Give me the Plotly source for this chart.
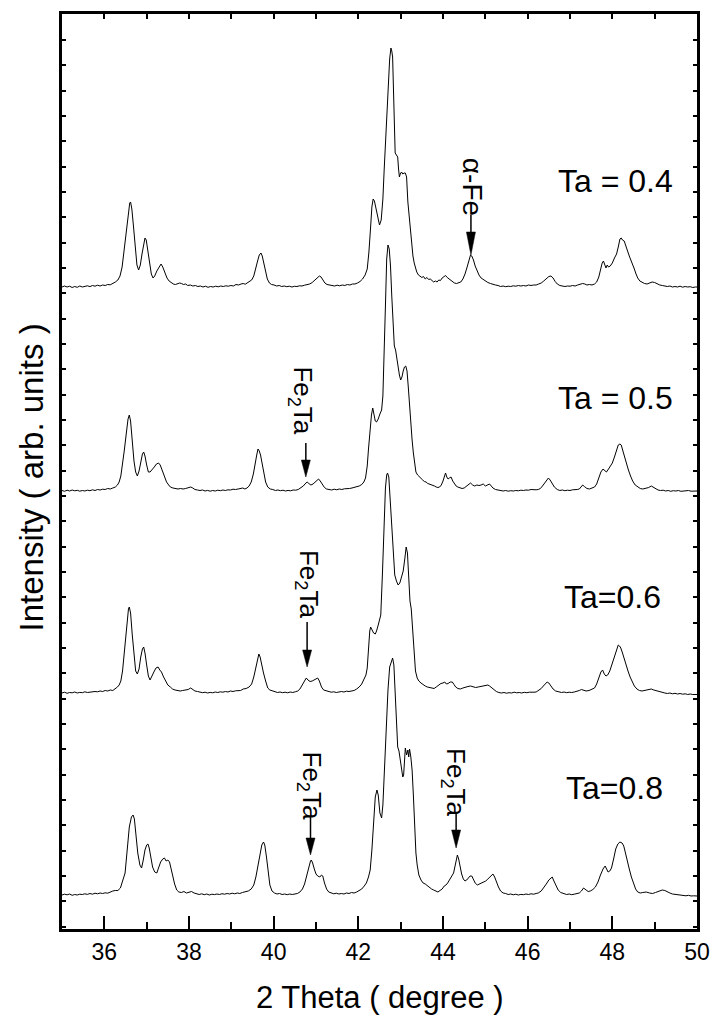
import plotly.graph_objects as go

# ---------------- data (2 theta in degree, intensity in arb. units above each pattern's baseline) ----
ta04_x = [
    35.00, 35.06, 35.12, 35.18, 35.24, 35.30, 35.36, 35.42, 35.48, 35.54,
    35.60, 35.66, 35.72, 35.78, 35.84, 35.90, 35.96, 36.02, 36.08, 36.14,
    36.20, 36.26, 36.32, 36.37, 36.42, 36.47, 36.52, 36.56, 36.60, 36.62,
    36.65, 36.69, 36.73, 36.77, 36.81, 36.85, 36.89, 36.93, 36.96, 36.99,
    37.03, 37.07, 37.11, 37.15, 37.19, 37.24, 37.29, 37.34, 37.38, 37.43,
    37.48, 37.53, 37.58, 37.63, 37.68, 37.73, 37.78, 37.82, 37.87, 37.92,
    37.97, 38.03, 38.09, 38.15, 38.21, 38.27, 38.33, 38.39, 38.45, 38.51,
    38.57, 38.63, 38.69, 38.75, 38.81, 38.87, 38.93, 38.99, 39.05, 39.11,
    39.17, 39.23, 39.28, 39.33, 39.38, 39.43, 39.48, 39.53, 39.58, 39.62,
    39.66, 39.70, 39.73, 39.77, 39.81, 39.85, 39.90, 39.95, 40.01, 40.07,
    40.13, 40.19, 40.25, 40.31, 40.37, 40.43, 40.49, 40.55, 40.61, 40.67,
    40.73, 40.79, 40.85, 40.91, 40.97, 41.03, 41.08, 41.12, 41.16, 41.21,
    41.26, 41.32, 41.38, 41.44, 41.50, 41.56, 41.62, 41.68, 41.74, 41.80,
    41.86, 41.92, 41.98, 42.04, 42.10, 42.16, 42.21, 42.25, 42.29, 42.32,
    42.35, 42.38, 42.42, 42.46, 42.50, 42.54, 42.58, 42.61, 42.64, 42.67,
    42.70, 42.72, 42.74, 42.77, 42.79, 42.81, 42.83, 42.85, 42.87, 42.90,
    42.93, 42.95, 42.97, 42.99, 43.02, 43.05, 43.08, 43.11, 43.14, 43.17,
    43.20, 43.23, 43.26, 43.29, 43.32, 43.35, 43.38, 43.42, 43.46, 43.50,
    43.54, 43.58, 43.62, 43.66, 43.70, 43.74, 43.78, 43.82, 43.86, 43.90,
    43.94, 43.98, 44.02, 44.06, 44.10, 44.14, 44.18, 44.22, 44.27, 44.32,
    44.37, 44.42, 44.47, 44.52, 44.57, 44.61, 44.65, 44.68, 44.72, 44.76,
    44.80, 44.85, 44.90, 44.95, 45.00, 45.06, 45.12, 45.18, 45.24, 45.30,
    45.36, 45.42, 45.48, 45.54, 45.60, 45.66, 45.72, 45.78, 45.84, 45.90,
    45.96, 46.02, 46.08, 46.14, 46.20, 46.26, 46.32, 46.38, 46.44, 46.50,
    46.55, 46.60, 46.65, 46.70, 46.76, 46.82, 46.88, 46.94, 47.00, 47.06,
    47.12, 47.18, 47.24, 47.30, 47.35, 47.40, 47.46, 47.52, 47.58, 47.63,
    47.68, 47.72, 47.76, 47.79, 47.82, 47.85, 47.88, 47.91, 47.95, 48.00,
    48.05, 48.10, 48.14, 48.18, 48.21, 48.24, 48.28, 48.32, 48.36, 48.40,
    48.44, 48.48, 48.52, 48.56, 48.60, 48.65, 48.70, 48.76, 48.82, 48.88,
    48.94, 49.00, 49.06, 49.12, 49.18, 49.24, 49.30, 49.36, 49.42, 49.48,
    49.54, 49.60, 49.66, 49.72, 49.78, 49.84, 49.90, 49.96, 50.00]
ta04_y = [
    0, 1, 0, 0.8, -0.5, 0.5, -0.3, 1, 0, 0.6,
    1.2, 0.4, 1.5, 0.8, 1.8, 1, 2, 1.5, 2.5, 2.2,
    3.5, 5, 7, 11, 20, 38, 58, 76, 84, 85,
    78, 60, 38, 22, 17, 22, 33, 44, 49, 47,
    36, 22, 13, 9, 11, 16, 20, 23, 20, 14,
    9, 6, 4, 3, 2.5, 3, 4, 3.5, 2.5, 3,
    1.5, 2, 1, 1.5, 0.5, 1, 0, 0.8, -0.3, 0.5,
    0, 0.8, 0.2, 1, 0.5, 1.2, 0.8, 1.5, 1, 2.5,
    2, 3, 3.5, 2.8, 4, 5, 7, 11, 18, 26,
    32, 34, 31, 24, 15, 8, 4, 2.5, 2, 1,
    1.5, 0.5, 1, 0.3, 0.8, 0, 0.7, 0.5, 1.2, 1,
    1.8, 2.5, 3, 4.5, 6.5, 9, 11, 10, 7, 4,
    2.5, 2, 1.5, 1, 1.8, 1.2, 2, 1.5, 2.5, 2,
    3, 3, 4, 5.5, 8, 12, 18, 35, 60, 80,
    88, 86, 78, 68, 62, 67, 88, 117, 145, 167,
    200, 214, 228, 239, 236, 230, 200, 167, 134, 132,
    130, 118, 110, 113, 115, 113, 114, 114, 110, 85,
    72, 55, 40, 31, 24, 19, 15, 12, 11, 9.5,
    10.5, 8, 9.5, 7.5, 8, 6.5, 5, 6, 5, 7,
    6.5, 9, 10, 11.5, 9.5, 8, 6.5, 5, 4, 3.5,
    4, 5, 8, 13, 20, 27, 32, 31, 27, 21,
    16, 12, 9, 7.5, 6, 4.5, 3.5, 2.5, 2, 1.5,
    0.5, 1, 0.3, 0.8, 0.5, 1.2, 0.8, 1.5, 1, 1.5,
    1, 2, 1.5, 2, 2, 3, 4, 6, 8.5, 10.5,
    11, 9, 5.5, 3, 1.5, 1, 0.5, 1, 0.8, 1.5,
    1, 2, 2.5, 3.5, 3, 2, 2.5, 2, 3, 5,
    10, 17, 24, 26, 21, 19, 22, 20, 21, 24,
    29, 33, 40, 48, 49, 47, 46, 40, 36, 31,
    27, 22, 18, 13, 9, 6, 4.5, 3.5, 3, 4,
    5, 4.5, 3, 2, 1.5, 1, 0.5, 1, 0, 0.5,
    0, 0.8, -0.2, 0.5, 0, 0.3, -0.5, 0, 0]

ta05_x = [
    35.00, 35.06, 35.12, 35.18, 35.24, 35.30, 35.36, 35.42, 35.48, 35.54,
    35.60, 35.66, 35.72, 35.78, 35.84, 35.90, 35.96, 36.02, 36.08, 36.14,
    36.20, 36.26, 36.31, 36.35, 36.39, 36.43, 36.47, 36.52, 36.56, 36.59,
    36.62, 36.66, 36.70, 36.74, 36.78, 36.82, 36.86, 36.90, 36.93, 36.96,
    37.00, 37.04, 37.08, 37.13, 37.18, 37.23, 37.28, 37.32, 37.37, 37.42,
    37.47, 37.52, 37.56, 37.62, 37.68, 37.74, 37.80, 37.86, 37.92, 37.98,
    38.04, 38.09, 38.14, 38.20, 38.26, 38.32, 38.38, 38.44, 38.50, 38.56,
    38.62, 38.68, 38.74, 38.80, 38.86, 38.92, 38.98, 39.04, 39.10, 39.16,
    39.22, 39.27, 39.32, 39.37, 39.42, 39.47, 39.52, 39.56, 39.60, 39.63,
    39.66, 39.69, 39.73, 39.77, 39.81, 39.86, 39.92, 39.98, 40.04, 40.10,
    40.16, 40.22, 40.28, 40.34, 40.40, 40.46, 40.52, 40.58, 40.64, 40.70,
    40.74, 40.79, 40.83, 40.88, 40.93, 40.98, 41.03, 41.06, 41.10, 41.15,
    41.20, 41.25, 41.31, 41.37, 41.43, 41.49, 41.55, 41.61, 41.67, 41.73,
    41.79, 41.85, 41.91, 41.96, 42.02, 42.08, 42.13, 42.17, 42.21, 42.24,
    42.27, 42.31, 42.34, 42.37, 42.40, 42.43, 42.47, 42.51, 42.55, 42.58,
    42.61, 42.64, 42.67, 42.70, 42.73, 42.76, 42.79, 42.82, 42.85, 42.88,
    42.91, 42.94, 42.97, 43.00, 43.03, 43.06, 43.09, 43.12, 43.15, 43.18,
    43.21, 43.24, 43.27, 43.30, 43.33, 43.36, 43.40, 43.44, 43.48, 43.52,
    43.56, 43.60, 43.64, 43.68, 43.72, 43.76, 43.80, 43.84, 43.88, 43.92,
    43.96, 44.00, 44.03, 44.06, 44.09, 44.12, 44.15, 44.19, 44.23, 44.27,
    44.31, 44.35, 44.40, 44.45, 44.50, 44.55, 44.60, 44.65, 44.70, 44.75,
    44.80, 44.85, 44.90, 44.95, 45.00, 45.05, 45.10, 45.14, 45.18, 45.24,
    45.30, 45.36, 45.42, 45.48, 45.54, 45.60, 45.66, 45.72, 45.78, 45.84,
    45.90, 45.96, 46.02, 46.08, 46.14, 46.20, 46.25, 46.30, 46.35, 46.40,
    46.45, 46.49, 46.53, 46.58, 46.63, 46.70, 46.76, 46.82, 46.88, 46.94,
    47.00, 47.06, 47.12, 47.17, 47.22, 47.27, 47.30, 47.34, 47.40, 47.46,
    47.52, 47.58, 47.63, 47.68, 47.73, 47.78, 47.82, 47.86, 47.91, 47.96,
    48.00, 48.05, 48.10, 48.14, 48.18, 48.21, 48.25, 48.29, 48.33, 48.38,
    48.43, 48.48, 48.54, 48.60, 48.66, 48.72, 48.80, 48.86, 48.92, 48.96,
    49.02, 49.08, 49.14, 49.20, 49.26, 49.32, 49.38, 49.44, 49.50, 49.56,
    49.62, 49.68, 49.74, 49.80, 49.86, 49.92, 50.00]
ta05_y = [
    0.5, -0.3, 0.8, 0, 1, 0.2, 0.7, -0.2, 0.5, 0,
    0.8, 0.3, 1.2, 0.5, 1.5, 1, 1.8, 1.5, 2.5, 2,
    3, 4, 6, 9, 15, 26, 40, 58, 72, 76,
    70, 50, 30, 19, 15, 20, 30, 37, 39, 35,
    26, 19, 19, 21, 24, 27, 28, 26, 20, 14,
    9, 6, 4, 3, 2.5, 2, 2.5, 2, 2.5, 3,
    4, 3, 1.5, 1, 0.5, 1, 0, 0.6, -0.2, 0.5,
    0, 0.8, 0.3, 1, 0.5, 1.2, 1, 1.8, 1.5, 2,
    2.5, 3, 2, 3, 5, 9, 17, 28, 36, 42,
    40, 36, 28, 18, 9, 4, 2, 1.5, 0.5, 1,
    0.3, 0.8, 0, 0.6, 0.2, 1, 0.8, 1.5, 3, 5,
    7, 9, 7.5, 6, 7, 9, 11, 12, 10, 6,
    3.5, 2, 1.5, 1, 1.8, 1.2, 2, 1.5, 2.2, 2,
    2.5, 3, 3.5, 4, 5, 6.5, 9, 13, 25, 42,
    58, 76, 83, 78, 70, 69, 72, 77, 81, 95,
    130, 185, 232, 246, 242, 225, 195, 162, 145, 141,
    132, 124, 116, 111, 114, 120, 124, 125, 120, 104,
    82, 63, 51, 38, 26, 19, 16, 14, 12.5, 11,
    9.5, 9, 7.5, 7, 6, 5.5, 5, 4, 3.5, 4,
    6, 10, 15, 18, 14, 12, 13, 14, 10, 7,
    5, 4, 3, 2.5, 3, 5, 7, 8, 6, 5,
    6, 5.5, 6, 7, 5, 6, 7, 5, 3, 1.5,
    1, 0.2, 0, 0.5, -0.2, 0.3, 0, 0.5, 0.2, 0.8,
    0.5, 1, 0.8, 1.5, 1, 1.2, 1.5, 2.5, 5, 8,
    11, 13, 11, 7, 4, 1.5, 0.5, 1, 0.3, 0.8,
    0.5, 1.2, 1, 1.5, 2, 4, 6, 4.5, 2.5, 2,
    3, 4, 7, 13, 19, 22, 20, 19, 22, 25,
    28, 34, 42, 46, 47, 46, 40, 34, 27, 21,
    15, 10, 6, 4, 2.5, 2, 2.5, 3.5, 5, 4,
    2, 1, 0.5, 0.8, 0, 0.5, -0.3, 0.3, 0, 0.5,
    -0.3, 0.2, 0, 0.5, -0.2, 0, 0]

ta06_x = [
    35.00, 35.06, 35.12, 35.18, 35.24, 35.30, 35.36, 35.42, 35.48, 35.54,
    35.60, 35.66, 35.72, 35.78, 35.84, 35.90, 35.96, 36.02, 36.08, 36.14,
    36.20, 36.26, 36.31, 36.35, 36.39, 36.43, 36.48, 36.53, 36.57, 36.59,
    36.62, 36.66, 36.70, 36.74, 36.78, 36.82, 36.86, 36.90, 36.93, 36.96,
    37.00, 37.04, 37.08, 37.12, 37.17, 37.22, 37.27, 37.31, 37.35, 37.40,
    37.45, 37.50, 37.56, 37.61, 37.67, 37.73, 37.79, 37.85, 37.92, 37.98,
    38.04, 38.09, 38.14, 38.20, 38.26, 38.32, 38.38, 38.44, 38.50, 38.56,
    38.62, 38.68, 38.74, 38.80, 38.86, 38.92, 38.98, 39.04, 39.10, 39.16,
    39.22, 39.28, 39.35, 39.42, 39.48, 39.53, 39.58, 39.62, 39.65, 39.68,
    39.72, 39.76, 39.81, 39.86, 39.91, 39.97, 40.03, 40.09, 40.15, 40.21,
    40.27, 40.33, 40.39, 40.45, 40.51, 40.57, 40.62, 40.68, 40.73, 40.77,
    40.81, 40.86, 40.91, 40.96, 41.01, 41.04, 41.08, 41.13, 41.18, 41.24,
    41.30, 41.36, 41.42, 41.48, 41.54, 41.60, 41.66, 41.72, 41.78, 41.84,
    41.90, 41.96, 42.02, 42.08, 42.13, 42.18, 42.21, 42.24, 42.27, 42.29,
    42.32, 42.36, 42.40, 42.43, 42.47, 42.50, 42.53, 42.57, 42.61, 42.64,
    42.67, 42.69, 42.72, 42.75, 42.78, 42.82, 42.86, 42.90, 42.94, 42.98,
    43.02, 43.06, 43.10, 43.13, 43.16, 43.19, 43.22, 43.25, 43.28, 43.31,
    43.35, 43.39, 43.43, 43.48, 43.53, 43.58, 43.63, 43.68, 43.73, 43.79,
    43.84, 43.90, 43.95, 44.00, 44.04, 44.08, 44.12, 44.17, 44.22, 44.26,
    44.30, 44.35, 44.41, 44.47, 44.53, 44.59, 44.65, 44.71, 44.77, 44.83,
    44.89, 44.95, 45.01, 45.06, 45.10, 45.15, 45.20, 45.26, 45.32, 45.38,
    45.44, 45.50, 45.56, 45.62, 45.68, 45.74, 45.80, 45.86, 45.92, 45.98,
    46.04, 46.10, 46.15, 46.20, 46.26, 46.32, 46.37, 46.42, 46.46, 46.50,
    46.55, 46.60, 46.66, 46.73, 46.80, 46.86, 46.92, 46.98, 47.04, 47.10,
    47.15, 47.22, 47.27, 47.32, 47.38, 47.45, 47.52, 47.58, 47.63, 47.68,
    47.73, 47.77, 47.81, 47.85, 47.89, 47.94, 48.00, 48.05, 48.10, 48.14,
    48.17, 48.20, 48.24, 48.28, 48.32, 48.37, 48.42, 48.47, 48.52, 48.58,
    48.64, 48.70, 48.78, 48.85, 48.92, 48.98, 49.05, 49.12, 49.18, 49.24,
    49.30, 49.36, 49.42, 49.48, 49.54, 49.60, 49.66, 49.72, 49.78, 49.84,
    49.90, 49.96, 50.00]
ta06_y = [
    0, 0.8, -0.3, 0.5, 0.2, 1, 0, 0.6, 0.3, 1.2,
    0.5, 1, 0.8, 1.5, 1.2, 2, 1.5, 2.5, 2, 3,
    2.5, 4, 6, 8, 12, 22, 45, 70, 84, 86,
    80, 58, 35, 22, 19, 24, 36, 44, 46, 40,
    28, 17, 13, 16, 21, 25, 26, 23, 21, 16,
    12, 8, 6, 4, 3, 2.5, 2, 2.5, 3, 3.5,
    5, 3.5, 2, 1.5, 1, 0.3, 0.8, 0, 0.6, 0.2,
    1, 0.5, 1.2, 0.8, 1.5, 1, 2, 1.5, 2.2, 2,
    2.5, 4, 4.5, 6, 9, 16, 27, 36, 39, 36,
    27, 20, 12, 5, 3, 2, 1.5, 0.5, 1, 0.3,
    0.8, 0.2, 1, 0.5, 1.2, 2, 4, 8, 12, 15,
    13, 11.5, 12, 13.5, 15, 15, 12, 6, 3, 2,
    1.5, 0.8, 1.2, 0.5, 1, 1.5, 1, 1.8, 1.5, 2,
    2.5, 4, 6, 9, 13, 18, 25, 45, 62, 66,
    63, 60, 59, 62, 68, 72, 78, 120, 170, 205,
    218, 220, 216, 195, 165, 135, 118, 112, 108, 110,
    115, 122, 135, 146, 140, 110, 92, 84, 62, 40,
    22, 15, 12, 10, 8, 7, 6, 5.5, 5, 4.5,
    6, 8, 9.5, 10, 11, 9, 9.5, 11, 11, 8.5,
    6, 4.5, 4, 5, 6, 6.5, 7, 6, 5.5, 6,
    6.5, 7, 7.5, 8, 7, 5, 3, 1.5, 0.5, 0,
    0.5, -0.2, 0.3, 0, 0.8, 0.2, 0.5, 0, 0.7, 0.3,
    0.8, 0.5, 0.8, 1, 2.5, 4.5, 7, 9.5, 11, 10,
    7, 4, 2, 1, 0.5, 1, 0.3, 0.8, 0.5, 1,
    1.5, 2.5, 3.5, 2.5, 2, 2.5, 3.5, 5, 9, 15,
    21, 23, 19, 17, 18, 22, 30, 38, 45, 48,
    47, 45, 40, 34, 28, 22, 16, 11, 7, 4,
    2.5, 2, 2.5, 3.5, 4, 3, 2, 1, 0.5, 0,
    -0.5, 0, -0.8, -0.3, -1, -0.5, -1.2, -0.8, -1.5, -1,
    -1.5, -1.2, -1.5]

ta08_x = [
    35.00, 35.06, 35.12, 35.18, 35.24, 35.30, 35.36, 35.42, 35.48, 35.54,
    35.60, 35.66, 35.72, 35.78, 35.84, 35.90, 35.96, 36.02, 36.08, 36.14,
    36.20, 36.26, 36.32, 36.38, 36.44, 36.49, 36.54, 36.59, 36.64, 36.68,
    36.71, 36.75, 36.79, 36.84, 36.88, 36.92, 36.96, 37.00, 37.03, 37.06,
    37.10, 37.14, 37.19, 37.24, 37.28, 37.33, 37.38, 37.42, 37.46, 37.50,
    37.54, 37.58, 37.62, 37.66, 37.71, 37.76, 37.82, 37.88, 37.94, 38.00,
    38.06, 38.12, 38.18, 38.24, 38.30, 38.36, 38.42, 38.48, 38.54, 38.60,
    38.66, 38.72, 38.78, 38.84, 38.90, 38.96, 39.02, 39.08, 39.14, 39.20,
    39.26, 39.33, 39.40, 39.47, 39.53, 39.58, 39.63, 39.68, 39.72, 39.76,
    39.79, 39.83, 39.87, 39.91, 39.96, 40.02, 40.08, 40.14, 40.20, 40.26,
    40.32, 40.38, 40.44, 40.50, 40.56, 40.62, 40.68, 40.73, 40.78, 40.83,
    40.87, 40.89, 40.92, 40.96, 41.00, 41.04, 41.09, 41.13, 41.16, 41.20,
    41.25, 41.30, 41.36, 41.42, 41.48, 41.54, 41.60, 41.66, 41.72, 41.78,
    41.84, 41.90, 41.96, 42.02, 42.08, 42.14, 42.19, 42.24, 42.28, 42.32,
    42.36, 42.40, 42.44, 42.47, 42.51, 42.55, 42.58, 42.62, 42.66, 42.70,
    42.74, 42.78, 42.81, 42.84, 42.87, 42.90, 42.93, 42.96, 42.99, 43.02,
    43.05, 43.07, 43.09, 43.11, 43.14, 43.17, 43.19, 43.21, 43.24, 43.27,
    43.30, 43.33, 43.36, 43.39, 43.43, 43.48, 43.53, 43.58, 43.63, 43.68,
    43.73, 43.78, 43.83, 43.88, 43.93, 43.98, 44.03, 44.07, 44.11, 44.15,
    44.20, 44.25, 44.29, 44.32, 44.34, 44.37, 44.40, 44.44, 44.48, 44.52,
    44.56, 44.60, 44.64, 44.68, 44.72, 44.76, 44.81, 44.86, 44.91, 44.96,
    45.01, 45.06, 45.10, 45.14, 45.18, 45.22, 45.26, 45.31, 45.36, 45.42,
    45.48, 45.54, 45.60, 45.66, 45.72, 45.78, 45.84, 45.90, 45.96, 46.02,
    46.08, 46.14, 46.20, 46.25, 46.32, 46.38, 46.44, 46.50, 46.55, 46.58,
    46.62, 46.67, 46.72, 46.78, 46.85, 46.92, 46.98, 47.04, 47.10, 47.16,
    47.22, 47.27, 47.32, 47.38, 47.43, 47.48, 47.54, 47.60, 47.66, 47.72,
    47.78, 47.83, 47.87, 47.90, 47.94, 47.98, 48.03, 48.08, 48.13, 48.18,
    48.23, 48.27, 48.31, 48.35, 48.40, 48.45, 48.50, 48.55, 48.60, 48.66,
    48.72, 48.80, 48.88, 48.95, 49.02, 49.10, 49.18, 49.24, 49.30, 49.36,
    49.42, 49.50, 49.56, 49.62, 49.68, 49.74, 49.80, 49.86, 49.92, 50.00]
ta08_y = [
    0, 0.8, 0.2, 1, -0.3, 0.5, 0, 0.8, 0.5, 1.2,
    0.6, 1.5, 0.8, 1.8, 1.2, 2, 1.5, 2.2, 1.8, 3,
    4, 4.5, 4.5, 7, 15, 22, 45, 68, 78, 80,
    76, 60, 42, 30, 27, 35, 45, 50, 51, 47,
    36, 28, 23, 22, 27, 33, 36, 37, 34, 35,
    33, 25, 18, 11, 5, 3, 2.5, 3.5, 2, 2.5,
    3.5, 2, 1.5, 0.5, 1.2, 0.3, 1, 0, 0.8, 0.4,
    1, 0.5, 1.3, 0.8, 1.5, 1, 1.8, 1.2, 2, 1.5,
    2.5, 3, 4, 6, 10, 18, 30, 42, 50, 53,
    50, 38, 22, 10, 4, 2, 1, 1.5, 0.5, 1,
    0.3, 1, 0.5, 1.2, 1.5, 3, 6, 11, 20, 28,
    34, 35, 32, 26, 21, 19, 18, 20, 19, 12,
    6, 3, 2, 1.2, 1.8, 1, 1.5, 1, 2, 1.5,
    2.5, 2, 3, 4.5, 6, 9, 12, 18, 25, 45,
    75, 98, 105, 100, 82, 77, 90, 130, 170, 205,
    228, 233, 237, 230, 200, 170, 148, 144, 135, 125,
    118, 120, 140, 147, 140, 145, 138, 146, 138, 125,
    100, 70, 42, 30, 20, 15, 12, 11, 9, 8,
    6, 5, 4, 3, 4.5, 6, 9, 10, 12, 15,
    18, 22, 30, 38, 40, 36, 28, 21, 16, 14,
    15, 17, 19, 19, 15, 12, 10, 11, 12, 13,
    14, 16, 18, 20, 21, 18, 13, 8, 4, 2,
    1.5, 0.5, 1, 0.2, 0.8, 0, 0.6, 0.3, 1, 0.5,
    1.2, 0.8, 1.5, 2, 4, 7, 11, 15, 17, 18,
    14, 10, 5, 2.5, 1.5, 0.5, 1, 0.3, 0.8, 1.2,
    2, 4, 7, 5, 3.5, 4, 5.5, 8, 13, 20,
    26, 29, 25, 23, 24, 27, 36, 46, 51, 53,
    52, 49, 42, 34, 26, 18, 11, 6, 3, 2,
    2.5, 3, 2, 1.5, 2.5, 4, 5, 4.5, 3, 2,
    1, 0.5, -0.3, 0, -0.5, -0.8, -0.3, -1, -0.8, -1]

series_labels = ["Ta = 0.4", "Ta = 0.5", "Ta=0.6", "Ta=0.8"]
series_offsets = [642, 438, 236, 34]          # vertical stacking offsets (arb. units)
label_x = [46.66, 46.66, 46.81, 46.86]
label_y = [748.5, 531, 332, 141]

# peak markers: text, text centre (x, y), arrow tip (x, y), arrow length px, head length px
marker_texts = ["α-Fe", "Fe<sub>2</sub>Ta", "Fe<sub>2</sub>Ta", "Fe<sub>2</sub>Ta", "Fe<sub>2</sub>Ta"]
marker_sizes = [28, 26, 26, 26, 26]
marker_text_x = [44.70, 40.66, 40.80, 40.87, 44.27]
marker_text_y = [742.5, 529, 345.5, 144, 146.5]
arrow_x = [44.66, 40.76, 40.79, 40.87, 44.31]
arrow_y = [674, 452, 262, 74, 81]
arrow_len = [40, 34, 45, 38, 35]
arrow_head = [23, 17, 17, 17, 18]

FONT = "Liberation Sans, Arial, Helvetica, sans-serif"

fig = go.Figure()
curve_axes = ["x", "x", "x", "x2"]
for xs, ys, off, xa in zip([ta04_x, ta05_x, ta06_x, ta08_x],
                           [ta04_y, ta05_y, ta06_y, ta08_y], series_offsets, curve_axes):
    fig.add_trace(go.Scatter(x=xs, y=[off + v for v in ys], mode="lines", xaxis=xa, yaxis="y",
                             line=dict(color="black", width=1),
                             showlegend=False, hoverinfo="skip"))

annotations = []
for t, x, y in zip(series_labels, label_x, label_y):
    annotations.append(dict(text=t, x=x, y=y, xref="x", yref="y", xanchor="left",
                            yanchor="middle", showarrow=False,
                            font=dict(family=FONT, size=32, color="black")))
for t, s, x, y in zip(marker_texts, marker_sizes, marker_text_x, marker_text_y):
    annotations.append(dict(text=t, x=x, y=y, xref="x", yref="y", textangle=90,
                            xanchor="center", yanchor="middle", showarrow=False,
                            font=dict(family=FONT, size=s, color="black")))
annotations.append(dict(text="2 Theta ( degree )", x=0.5, y=0, xref="paper", yref="paper",
                        xanchor="center", yanchor="middle", yshift=-68, showarrow=False,
                        font=dict(family=FONT, size=31, color="black")))
annotations.append(dict(text="Intensity ( arb. units )", x=0, y=0.5, xref="paper", yref="paper",
                        xanchor="center", yanchor="middle", xshift=-31, yshift=-6,
                        textangle=-90, showarrow=False,
                        font=dict(family=FONT, size=33, color="black")))

shapes = []
for x, y, L, H in zip(arrow_x, arrow_y, arrow_len, arrow_head):
    shapes.append(dict(type="line", xref="x", yref="y", xsizemode="pixel", ysizemode="pixel",
                       xanchor=x, yanchor=y, x0=0, x1=0, y0=H - 2, y1=L,
                       line=dict(color="black", width=1.5)))
    shapes.append(dict(type="path", xref="x", yref="y", xsizemode="pixel", ysizemode="pixel",
                       xanchor=x, yanchor=y, path=f"M0,0 L-4.5,{H} L4.5,{H} Z",
                       fillcolor="black", line=dict(color="black", width=0.5)))

fig.update_layout(
    width=712, height=1016,
    margin=dict(l=62, r=15, t=14, b=87),
    paper_bgcolor="white", plot_bgcolor="white",
    showlegend=False,
    annotations=annotations, shapes=shapes,
    xaxis=dict(range=[35, 50], tickmode="linear", tick0=36, dtick=2,
               ticks="inside", ticklen=13, tickwidth=2, tickcolor="black",
               minor=dict(tickmode="linear", tick0=35, dtick=1, ticks="inside",
                          ticklen=7, tickwidth=2, tickcolor="black", showgrid=False),
               showline=True, linewidth=3, linecolor="black", mirror=True,
               showgrid=False, zeroline=False, automargin=False,
               tickfont=dict(family=FONT, size=23, color="black")),
    xaxis2=dict(range=[35, 50], overlaying="x", side="top", anchor="y",
                tickmode="linear", tick0=35, dtick=1, ticks="inside", ticklen=5,
                tickwidth=1.5, tickcolor="black", showticklabels=False,
                showline=False, showgrid=False, zeroline=False, automargin=False),
    yaxis=dict(range=[0, 915], tickmode="linear", tick0=889, dtick=25.33,
               ticks="inside", ticklen=4, tickwidth=1.5, tickcolor="black",
               showticklabels=False, showline=True, linewidth=3, linecolor="black",
               mirror="ticks", showgrid=False, zeroline=False, automargin=False),
)

fig.write_html("out.html")
